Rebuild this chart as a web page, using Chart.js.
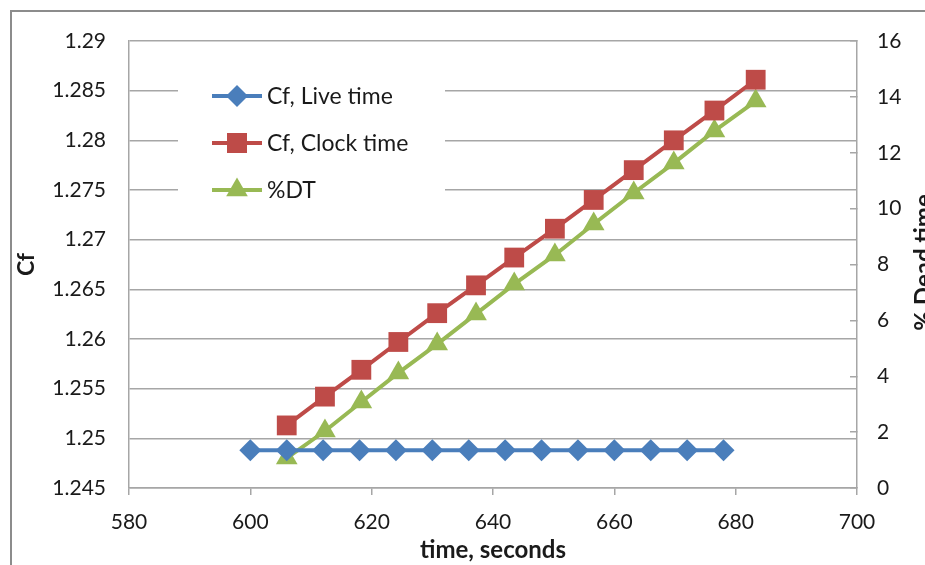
<!DOCTYPE html>
<html>
<head>
<meta charset="utf-8">
<script src="https://cdn.jsdelivr.net/npm/chart.js@4/dist/chart.umd.min.js"></script>
<style>
  html, body { margin: 0; padding: 0; background: #fff; overflow: hidden; }
  #wrap { position: relative; width: 925px; height: 565px; }
  #frame { position: absolute; left: 10px; top: 10px; width: 1000px; height: 1000px;
           border: 2px solid #8c8c8c; pointer-events: none; }
</style>
</head>
<body>
<div id="wrap">
  <canvas id="chart" width="925" height="565"></canvas>
  <div id="frame"></div>
</div>
<script>
// data
const liveTimes = [600, 606, 612, 618, 624, 630, 636, 642, 648, 654, 660, 666, 672, 678];
const cfLive = [1.2488, 1.2488, 1.2488, 1.2488, 1.2488, 1.2488, 1.2488, 1.2488, 1.2488, 1.2488, 1.2488, 1.2488, 1.2488, 1.2488];
const clockTimes = [606, 612.3, 618.3, 624.4, 630.8, 637.2, 643.5, 650.2, 656.6, 663.2, 669.8, 676.5, 683.3];
const cfClock = [1.2513, 1.2542, 1.2569, 1.2597, 1.2626, 1.2654, 1.2682, 1.2711, 1.2740, 1.2770, 1.2800, 1.2830, 1.2861];
const deadTime = [1.07, 2.04, 3.08, 4.12, 5.15, 6.23, 7.30, 8.34, 9.45, 10.56, 11.63, 12.78, 13.85];

const seriesNames = ['Cf, Live time', 'Cf, Clock time', '%DT'];
const xTitle = 'time, seconds';
const yTitle = 'Cf';
const y2Title = '% Dead time';

const BLUE = '#4a7ebb', RED = '#be4b48', GREEN = '#98b954';
const GRID = '#a6a6a6';
const FONT = 'Lato, "Open Sans", sans-serif';

const toXY = (xs, ys) => xs.map((x, i) => ({ x: x, y: ys[i] }));

function drawMarker(ctx, style, x, y, color) {
  ctx.save();
  ctx.fillStyle = color;
  ctx.beginPath();
  if (style === 'rectRot') {
    const r = 11;
    ctx.moveTo(x, y - r); ctx.lineTo(x + r, y); ctx.lineTo(x, y + r); ctx.lineTo(x - r, y);
  } else if (style === 'rect') {
    ctx.rect(x - 10, y - 10, 20, 20);
  } else {
    const r = 12.5;
    ctx.moveTo(x, y - r);
    ctx.lineTo(x + r * 0.866, y + r / 2);
    ctx.lineTo(x - r * 0.866, y + r / 2);
  }
  ctx.closePath();
  ctx.fill();
  ctx.restore();
}

// excel-like legend sitting inside the plot area
const insideLegend = {
  id: 'insideLegend',
  beforeDatasetsDraw(chart) {
    const { ctx, chartArea } = chart;
    const left = chartArea.left, top = chartArea.top;
    ctx.save();
    ctx.fillStyle = '#fff';
    ctx.fillRect(left + 49, top + 28, 267, 143);
    ctx.font = '23px ' + FONT;
    ctx.textBaseline = 'middle';
    chart.data.datasets.forEach((ds, i) => {
      const y = top + 55 + i * 47;
      ctx.strokeStyle = ds.borderColor;
      ctx.lineWidth = 4;
      ctx.beginPath();
      ctx.moveTo(left + 83, y);
      ctx.lineTo(left + 133, y);
      ctx.stroke();
      drawMarker(ctx, ds.pointStyle, left + 108, y, ds.borderColor);
      ctx.fillStyle = '#1a1a1a';
      ctx.fillText(ds.label, left + 138, y + 1);
    });
    ctx.restore();
  },
  afterDraw(chart) {
    // right axis title reads bottom-to-top like the left one
    const { ctx, chartArea } = chart;
    ctx.save();
    ctx.translate(chartArea.right + 67, (chartArea.top + chartArea.bottom) / 2 - 2);
    ctx.rotate(-Math.PI / 2);
    ctx.font = 'bold 24px ' + FONT;
    ctx.fillStyle = '#1a1a1a';
    ctx.textAlign = 'center';
    ctx.textBaseline = 'middle';
    ctx.fillText(y2Title, 0, 0);
    ctx.restore();
  }
};

new Chart(document.getElementById('chart'), {
  type: 'line',
  data: {
    datasets: [
      {
        label: seriesNames[0], data: toXY(liveTimes, cfLive), yAxisID: 'y',
        borderColor: BLUE, backgroundColor: BLUE, pointStyle: 'rectRot', pointRadius: 11,
        borderWidth: 4, pointBorderWidth: 0
      },
      {
        label: seriesNames[1], data: toXY(clockTimes, cfClock), yAxisID: 'y',
        borderColor: RED, backgroundColor: RED, pointStyle: 'rect', pointRadius: 14,
        borderWidth: 4, pointBorderWidth: 0
      },
      {
        label: seriesNames[2], data: toXY(clockTimes, deadTime), yAxisID: 'y2',
        borderColor: GREEN, backgroundColor: GREEN, pointStyle: 'triangle', pointRadius: 12.5,
        borderWidth: 4, pointBorderWidth: 0
      }
    ]
  },
  options: {
    responsive: false,
    animation: false,
    devicePixelRatio: 1,
    layout: { padding: { top: 41, left: 0, right: 0, bottom: 0 } },
    plugins: { legend: { display: false }, tooltip: { enabled: false } },
    scales: {
      x: {
        type: 'linear', min: 580, max: 700,
        afterFit: s => { s.height = 77; },
        ticks: { stepSize: 20, padding: 15, color: '#1a1a1a', font: { family: FONT, size: 21 } },
        grid: { drawOnChartArea: false, drawTicks: true, tickLength: 7, color: GRID, lineWidth: 1.5 },
        border: { color: GRID, width: 1.5 },
        title: { display: true, text: xTitle, color: '#1a1a1a', padding: { bottom: 0 },
                 font: { family: FONT, size: 24, weight: 'bold' } }
      },
      y: {
        position: 'left', min: 1.245, max: 1.29,
        afterFit: s => { s.width = 129; },
        ticks: { stepSize: 0.005, padding: 23, color: '#1a1a1a', font: { family: FONT, size: 21 },
                 callback: v => String(+v.toFixed(3)) },
        grid: { drawTicks: false, color: GRID, lineWidth: 1.5 },
        border: { color: GRID, width: 1.5 },
        title: { display: true, text: yTitle, color: '#1a1a1a', padding: { top: 13 },
                 font: { family: FONT, size: 23, weight: 'bold' } }
      },
      y2: {
        position: 'right', min: 0, max: 16,
        afterFit: s => { s.width = 68; },
        ticks: { stepSize: 2, padding: 27, color: '#1a1a1a', font: { family: FONT, size: 21 } },
        grid: { drawOnChartArea: false, drawTicks: true, tickLength: -7, color: GRID, lineWidth: 1.5 },
        border: { color: GRID, width: 1.5 }
      }
    }
  },
  plugins: [insideLegend]
});
</script>
</body>
</html>
